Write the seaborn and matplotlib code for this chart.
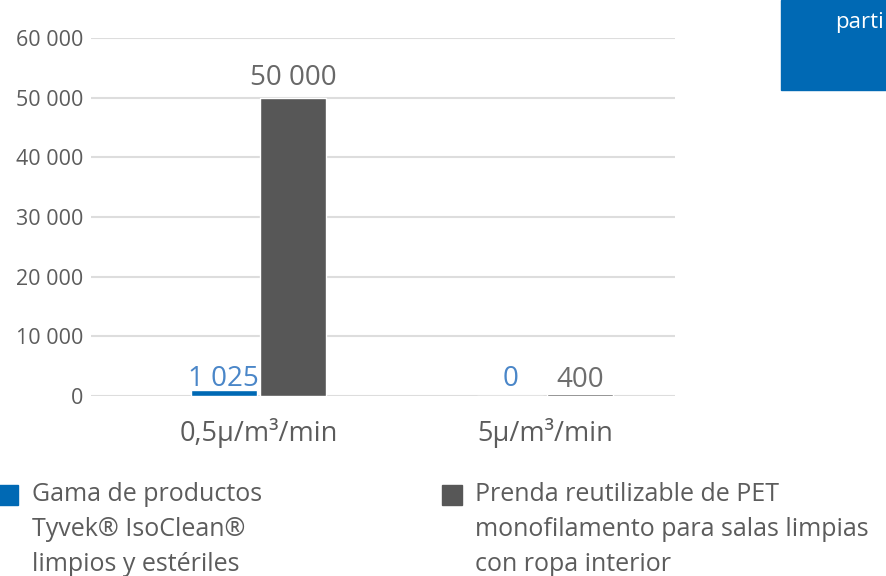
import pandas as pd
import numpy as np
import matplotlib.pyplot as plt
import seaborn as sns
from matplotlib.patches import Rectangle

### data
categories = ["0,5μ/m³/min", "5μ/m³/min"]
series_names = ["Gama de productos\nTyvek® IsoClean®\nlimpios y estériles",
                "Prenda reutilizable de PET\nmonofilamento para salas limpias\ncon ropa interior"]
tyvek_vals = [1025, 0]
pet_vals = [50000, 400]
yticks = [0, 10000, 20000, 30000, 40000, 50000, 60000]

blue = "#0069b4"
gray = "#575757"
txt_gray = "#5c5c5c"

df = pd.DataFrame({
    "cat": categories * 2,
    "serie": [series_names[0]] * 2 + [series_names[1]] * 2,
    "val": tyvek_vals + pet_vals,
})

def fmt(v):
    return f"{int(round(v)):,}".replace(",", " ")

sns.set_style("white")
plt.rcParams['font.family'] = ['Open Sans', 'DejaVu Sans']

fig = plt.figure(figsize=(8.86, 5.76), dpi=100)
ax = fig.add_axes([91 / 886, 1 - 396 / 576, 584 / 886, 358 / 576])

sns.barplot(data=df, x="cat", y="val", hue="serie", ax=ax,
            palette=[blue, gray], width=0.485, gap=0.045, saturation=1, legend=False)

ax.set_xlim(-(258.5 - 91) / 286.5, 1 + (675 - 545) / 286.5)
ax.set_ylim(0, 60000)
ax.set_yticks(yticks)
ax.set_yticklabels([fmt(v) for v in yticks])
ax.yaxis.grid(True, color="#dddddd", linewidth=1.5)
ax.set_axisbelow(True)
for s in ax.spines.values():
    s.set_visible(False)
ax.tick_params(axis="y", length=0, pad=5.5, labelsize=15.5, labelcolor=txt_gray)
ax.tick_params(axis="x", length=0, pad=16, labelsize=19.5, labelcolor=txt_gray)
ax.set_xlabel("")
ax.set_ylabel("")

# bar value labels (the small ones sit on a common line just above zero)
lab_colors = [["#4a86c8", "#4a86c8"], ["#686868", "#6e6e6e"]]
lab_pads = [[-2.5, 2.0], [3.8, 0.0]]
for cont, cols, pads in zip(ax.containers, lab_colors, lab_pads):
    txts = ax.bar_label(cont, labels=[fmt(v) for v in cont.datavalues],
                        padding=4, fontsize=20)
    for t, c, p in zip(txts, cols, pads):
        t.set_color(c)
        t.xyann = (0, p)

# legend below (drawn by hand so the squares sit on the first line)
leg_x = [-2, 442]
for x0, name, col in zip(leg_x, series_names, [blue, gray]):
    fig.patches.append(Rectangle((x0 / 886, 1 - 505 / 576), 20 / 886, 20 / 576,
                                 transform=fig.transFigure, color=col))
    fig.text((x0 + 34 if x0 < 0 else x0 + 33) / 886, 1 - 571 / 576, name,
             color=txt_gray, fontsize=18, va="baseline", ha="left", linespacing=1.52)

# blue box top right
fig.patches.append(Rectangle((781 / 886, 1 - 90 / 576), 105 / 886, 90 / 576,
                             transform=fig.transFigure, color=blue, zorder=0))
fig.text(835 / 886, 1 - 28 / 576, "parti", color="white", fontsize=16,
         va="baseline", ha="left")

fig.savefig("out.png", dpi=100)
